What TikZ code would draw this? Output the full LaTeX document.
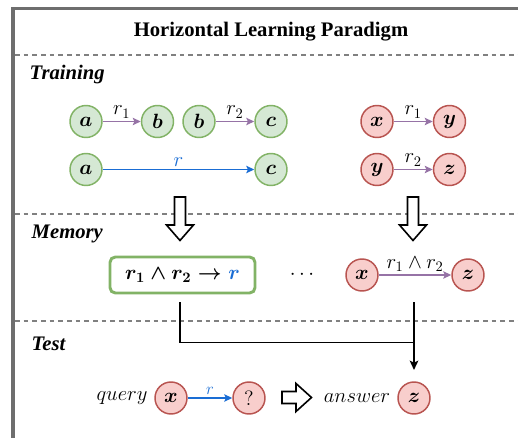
\RequirePackage{fix-cm}
\documentclass[tikz,border=0pt]{standalone}
\usepackage{fontspec}
\setmainfont{Liberation Serif}
\usetikzlibrary{arrows.meta}

\definecolor{greenfill}{HTML}{D5E8D4}
\definecolor{greenline}{HTML}{82B366}
\definecolor{redfill}{HTML}{F8CECC}
\definecolor{redline}{HTML}{B85450}
\definecolor{relpurple}{HTML}{9673A6}
\definecolor{tgtblue}{HTML}{1A6DD4}
\definecolor{framegray}{HTML}{6E6E6E}
\definecolor{sepgray}{HTML}{808080}

\begin{document}
\begin{tikzpicture}[x=0.75pt,y=-0.75pt,
  font=\fontsize{15.5}{18}\selectfont,
  greennode/.style={circle,draw=greenline,fill=greenfill,line width=1.1pt,
    minimum size=24pt,inner sep=0pt,font=\fontsize{15.5}{18}\selectfont\boldmath},
  rednode/.style={circle,draw=redline,fill=redfill,line width=1.1pt,
    minimum size=24pt,inner sep=0pt,font=\fontsize{15.5}{18}\selectfont\boldmath},
  rel/.style={draw=relpurple,line width=1.1pt,
    -{Stealth[length=6pt,width=5.5pt,inset=1.2pt]}},
  target/.style={draw=tgtblue,line width=1.1pt,
    -{Stealth[length=6pt,width=5.5pt,inset=1.2pt]}},
  elabel/.style={above,inner sep=2pt},
  hollow/.style={draw,line width=1.2pt,fill=white},
  sep/.style={draw=sepgray,line width=1.1pt,dash pattern=on 3.5pt off 3pt},
  section/.style={anchor=west,font=\fontsize{15.5}{18}\selectfont\bfseries\itshape},
  rulebox/.style={draw=greenline,line width=2.2pt,rounded corners=4pt,
    minimum width=108.75pt,minimum height=27pt,
    font=\fontsize{15.5}{18}\selectfont\boldmath}]
  \clip (0,0) rectangle (518,438);
  \draw[framegray,line width=2.6pt] (13,460) -- (13,8.5) -- (540,8.5);
  \node (title) at (271,32) {\bfseries Horizontal Learning Paradigm};
  \draw[sep] (15,55) -- (518,55);
  \draw[sep] (15,214) -- (518,214);
  \draw[sep] (15,321) -- (518,321);

  % training
  \node[section] (training) at (25,75) {Training};
  \node[greennode] (a1) at (86,121.5) {$a$};
  \node[greennode] (b1) at (157.5,121.5) {$b$};
  \node[greennode] (b2) at (199,121.5) {$b$};
  \node[greennode] (c1) at (271,121.5) {$c$};
  \node[greennode] (a2) at (86,169.5) {$a$};
  \node[greennode] (c2) at (271,169.5) {$c$};
  \node[rednode] (x1) at (377,121.5) {$x$};
  \node[rednode] (y1) at (449.5,121.5) {$y$};
  \node[rednode] (y2) at (377,169.5) {$y$};
  \node[rednode] (z1) at (449.5,169.5) {$z$};
  \draw[rel] (a1) -- node[elabel] {$r_1$} (b1);
  \draw[rel] (b2) -- node[elabel] {$r_2$} (c1);
  \draw[target] (a2) -- node[elabel,text=tgtblue] {$r$} (c2);
  \draw[rel] (x1) -- node[elabel] {$r_1$} (y1);
  \draw[rel] (y2) -- node[elabel] {$r_2$} (z1);
  \draw[hollow] (174.5,197) -- ++(11,0) -- ++(0,28) -- ++(8,0)
    -- ++(-13.5,15.5) -- ++(-13.5,-15.5) -- ++(8,0) -- cycle;
  \draw[hollow] (407.5,197) -- ++(11,0) -- ++(0,28) -- ++(8,0)
    -- ++(-13.5,15.5) -- ++(-13.5,-15.5) -- ++(8,0) -- cycle;

  % memory
  \node[section] (memory) at (27,234) {Memory};
  \node[rulebox] (rule) at (182.5,275) {$r_1\wedge r_2\to{\color{tgtblue}r}$};
  \node (dots) at (302,275) {$\cdots$};
  \node[rednode] (xm) at (362,275) {$x$};
  \node[rednode] (zm) at (468,275) {$z$};
  \draw[rel] (xm) -- node[elabel] {$r_1\wedge r_2$} (zm);
  \coordinate (m1) at (180,302.5);
  \coordinate (m2) at (414,302.5);
  \coordinate (join) at (414,342.5);

  % test
  \node[section] (test) at (27,344) {Test};
  \node (query) at (122,398) {$query$};
  \node[rednode] (xq) at (171,398) {$x$};
  \node[rednode,font=\fontsize{15.5}{18}\selectfont] (qq) at (249,398) {$?$};
  \node (answer) at (357,398) {$answer$};
  \node[rednode] (zq) at (414,398) {$z$};
  \draw[target] (xq) -- node[elabel,text=tgtblue,font=\fontsize{12.5}{14}\selectfont] {$r$} (qq);
  \draw[hollow] (282,391.5) -- (296,391.5) -- (296,383.5) -- (311.5,397.5)
    -- (296,411.5) -- (296,403.5) -- (282,403.5) -- cycle;
  \draw[line width=1.1pt] (m1) |- (join);
  \draw[line width=1.1pt,-{Stealth[length=7pt,width=6.5pt,inset=1.5pt]},
    shorten >=8.5pt] (m2) -- (zq);
\end{tikzpicture}
\end{document}
